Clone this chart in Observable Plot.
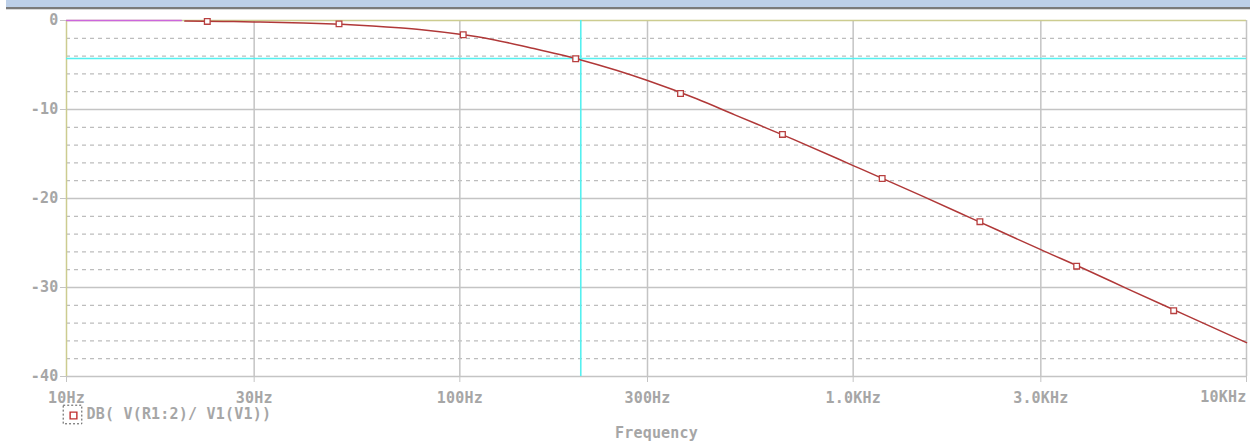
<!DOCTYPE html>
<html>
<head>
<meta charset="utf-8">
<script src="https://cdn.jsdelivr.net/npm/d3@7"></script>
<script src="https://cdn.jsdelivr.net/npm/@observablehq/plot@0.6"></script>
<style>
  body { margin: 0; background: #fff; }
  #bar { height: 10px; margin-left: 6px; background: linear-gradient(#bccfe8 0 7px, #7a7a7a 7px 9px, #d8d8d8 9px 10px); }
  svg { display: block; overflow: visible; }
</style>
</head>
<body>
<div id="bar"></div>
<div id="chart"></div>
<script>
// Curve (frequency in Hz, magnitude in dB)
const freq = [20, 25, 30, 40, 50, 60, 70, 80, 100, 120, 150, 200, 250, 300, 400, 500, 700, 1000, 1500, 2000, 3000, 4000, 5000, 7000, 10000];
const dB   = [-0.07, -0.11, -0.16, -0.28, -0.43, -0.61, -0.81, -1.03, -1.55, -2.1, -3.03, -4.35, -5.6, -6.75, -8.8, -10.6, -13.3, -16.3, -19.74, -22.23, -25.75, -28.2, -30.18, -33.1, -36.2];
// Marker squares along the trace
const markFreq = [22.8, 49.3, 102, 197, 364, 661, 1185, 2100, 3700, 6530];
const markDB   = [-0.1, -0.38, -1.6, -4.3, -8.2, -12.8, -17.75, -22.6, -27.6, -32.6];
// Flat start of the trace (drawn in violet)
const startFreq = [10, 19.6];
const startDB = [0, 0];
// Cursor position
const cursorFreq = 203;
const cursorDB = -4.27;
// Axis ticks
const xTicks = [10, 30, 100, 300, 1000, 3000, 10000];
const xTickLabels = ["10Hz", "30Hz", "100Hz", "300Hz", "1.0KHz", "3.0KHz", "10KHz"];
const yTicks = [0, -10, -20, -30, -40];
const yTickLabels = ["0", "-10", "-20", "-30", "-40"];
const yMinor = [-2, -4, -6, -8, -12, -14, -16, -18, -22, -24, -26, -28, -32, -34, -36, -38];
const xMajorInner = [30, 100, 300, 1000, 3000];
const legendLabel = "DB( V(R1:2)/ V1(V1))";
const xLabel = "Frequency";

const curve = freq.map((f, i) => ({f, v: dB[i]}));
const marks = markFreq.map((f, i) => ({f, v: markDB[i]}));
const start = startFreq.map((f, i) => ({f, v: startDB[i]}));
const lastTick = xTicks[xTicks.length - 1];

const grey = "#c4c4c4";
const textGrey = "#a6a6a6";
const olive = "#cccc90";

const chart = Plot.plot({
  width: 1250,
  height: 431,
  marginTop: 10,
  marginLeft: 66,
  marginRight: 4,
  marginBottom: 65,
  style: {fontFamily: "'DejaVu Sans Mono', monospace", fontSize: "15px", fontWeight: "bold", letterSpacing: "0.2px", background: "#fff"},
  x: {type: "log", domain: [10, 10000]},
  y: {domain: [-40, 0]},
  marks: [
    Plot.ruleY(yMinor, {stroke: "#bdbdbd", strokeDasharray: "4,4", strokeWidth: 1.2}),
    Plot.ruleY([-10, -20, -30, -40], {stroke: grey, strokeWidth: 1.5}),
    Plot.ruleX(xMajorInner, {stroke: grey, strokeWidth: 1.5}),
    Plot.ruleX([10000], {stroke: grey, strokeWidth: 1.5}),
    Plot.ruleY([0], {stroke: olive, strokeWidth: 1.5}),
    Plot.ruleX([10], {stroke: olive, strokeWidth: 1.5}),
    Plot.ruleY([cursorDB], {stroke: "#55f0f0", strokeWidth: 1.6}),
    Plot.ruleX([cursorFreq], {stroke: "#55f0f0", strokeWidth: 1.6}),
    Plot.line(start, {x: "f", y: "v", stroke: "#cc66dd", strokeWidth: 1.5}),
    Plot.line(curve, {x: "f", y: "v", stroke: "#b03838", strokeWidth: 1.5, curve: "monotone-x"}),
    Plot.dot(marks, {x: "f", y: "v", symbol: "square", r: 3.2, stroke: "#b84040", fill: "#fff", strokeWidth: 1.3}),
    Plot.axisX(xTicks, {tickFormat: (d) => d === lastTick ? "" : xTickLabels[xTicks.indexOf(d)], tickSize: 6, tickPadding: 10, color: textGrey, stroke: grey, label: null}),
    Plot.text([lastTick], {x: (d) => d, frameAnchor: "bottom", dy: 25.5, text: () => xTickLabels[xTicks.length - 1], textAnchor: "end", fill: textGrey}),
    Plot.axisY({ticks: yTicks, tickFormat: (d) => yTickLabels[yTicks.indexOf(d)], tickSize: 6, tickPadding: 2, color: textGrey, stroke: grey, label: null}),
    Plot.dot([0], {frameAnchor: "bottom-left", dx: 6, dy: 38, symbol: "square", r: 10.5, stroke: "#555", strokeDasharray: "2,2", fill: "none", strokeWidth: 1}),
    Plot.dot([0], {frameAnchor: "bottom-left", dx: 7, dy: 39, symbol: "square", r: 3.8, stroke: "#c03030", fill: "#fff", strokeWidth: 1.4}),
    Plot.text([legendLabel], {frameAnchor: "bottom-left", dx: 20, dy: 42, text: (d) => d, textAnchor: "start", fill: textGrey}),
    Plot.text([xLabel], {frameAnchor: "bottom", dy: 61, text: (d) => d, fill: textGrey})
  ]
});
document.getElementById("chart").appendChild(chart);
</script>
</body>
</html>
